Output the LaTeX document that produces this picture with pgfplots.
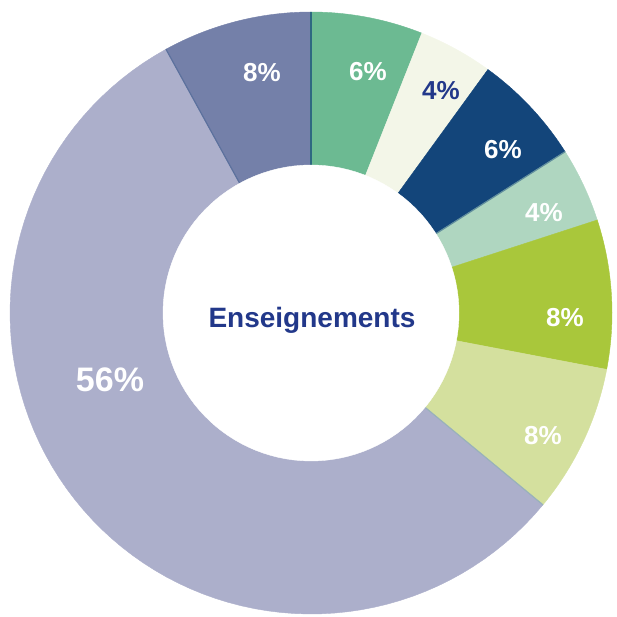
\documentclass[border=0pt]{standalone}
\usepackage{fontspec}
\setmainfont{Liberation Sans}
\usepackage{pgfplots}
\pgfplotsset{compat=1.18}
\definecolor{cGreen}{HTML}{6CBA92}
\definecolor{cCream}{HTML}{F3F6E8}
\definecolor{cNavy}{HTML}{13457A}
\definecolor{cLight}{HTML}{AFD6C0}
\definecolor{cLime}{HTML}{A9C73B}
\definecolor{cPale}{HTML}{D4E09E}
\definecolor{cLav}{HTML}{ACAFCB}
\definecolor{cSlate}{HTML}{7480A9}
\definecolor{cText}{HTML}{22388A}
% centre (cx,cy), outer radius R, inner radius r (in pixel units)
\newcommand{\dcx}{311}
\newcommand{\dcy}{304}
\newcommand{\dR}{301}
\newcommand{\drin}{148}
% wedge: #1 = cumulative percent before, #2 = percent, #3 = colour
\newcommand{\donutwedge}[3]{%
  \addplot[fill=#3, draw=#3, line width=0.4pt, domain={90-3.6*(#1)}:{90-3.6*(#1+#2)}, samples=80, variable=\t]
    ({\dcx+\dR*cos(\t)}, {\dcy+\dR*sin(\t)}) -- (axis cs:\dcx,\dcy) -- cycle;%
}
% separator line at cumulative percent #1, colour #2
\newcommand{\donutsep}[2]{%
  \addplot[draw=#2, line width=1.2pt, domain=\drin:\dR, samples=2, variable=\t]
    ({\dcx+\t*cos(90-3.6*(#1))}, {\dcy+\t*sin(90-3.6*(#1))});%
}
\begin{document}
\begin{tikzpicture}
\begin{axis}[
  scale only axis, width=616pt, height=617pt,
  xmin=0, xmax=616, ymin=0, ymax=617,
  hide axis, clip=false]
\path (rel axis cs:0,0) rectangle (rel axis cs:1,1);
\donutwedge{0}{6}{cGreen}
\donutwedge{6}{4}{cCream}
\donutwedge{10}{6}{cNavy}
\donutwedge{16}{4}{cLight}
\donutwedge{20}{8}{cLime}
\donutwedge{28}{8}{cPale}
\donutwedge{36}{56}{cLav}
\donutwedge{92}{8}{cSlate}
\donutsep{0}{cNavy!70!cGreen}
\donutsep{92}{cSlate!75!cNavy}
\donutsep{16}{cNavy!50!cLight}
\donutsep{36}{cLav!70!cGreen}
% hole
\addplot[fill=white, draw=white, domain=0:360, samples=120, variable=\t]
  ({\dcx+\drin*cos(\t)}, {\dcy+\drin*sin(\t)}) -- cycle;
% labels
\begin{scope}[every node/.style={font=\bfseries\fontsize{26}{30}\selectfont, text=white}]
\node at (axis cs:262,544) {8\%};
\node at (axis cs:368,545) {6\%};
\node[text=cText] at (axis cs:441,526) {4\%};
\node at (axis cs:503,467) {6\%};
\node at (axis cs:544,404) {4\%};
\node at (axis cs:565,299) {8\%};
\node at (axis cs:543,181) {8\%};
\node[font=\bfseries\fontsize{34}{38}\selectfont] at (axis cs:110,237) {56\%};
\node[text=cText, font=\bfseries\fontsize{28}{32}\selectfont] at (axis cs:312,297) {Enseignements};
\end{scope}
\end{axis}
\end{tikzpicture}
\end{document}
